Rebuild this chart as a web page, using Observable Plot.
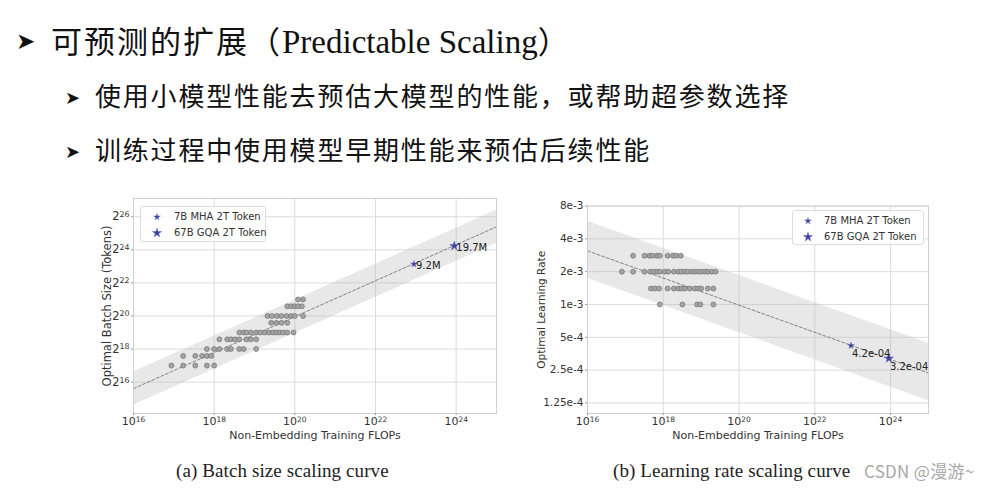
<!DOCTYPE html>
<html><head><meta charset="utf-8">
<script src="https://cdn.jsdelivr.net/npm/d3@7"></script>
<script src="https://cdn.jsdelivr.net/npm/@observablehq/plot@0.6"></script>
<style>
html,body{margin:0;padding:0;background:#fff;width:986px;height:494px;overflow:hidden;position:relative}
.a{position:absolute;white-space:nowrap}
.cjk{font-family:"Noto Sans CJK SC",sans-serif;color:#111;line-height:1}
.arr{font-family:"DejaVu Sans";color:#111;line-height:1}
.cap{font-family:"Liberation Serif",serif;font-size:19px;letter-spacing:0.1px;line-height:1;color:#222}
.lg{position:absolute;background:rgba(255,255,255,0.85);border:1px solid #dcdcdc;border-radius:3px;box-sizing:border-box;font-family:"DejaVu Sans";font-size:10px;color:#333}
.lg .row{position:absolute;height:12px;line-height:12px;white-space:nowrap}
.lg svg{position:absolute;overflow:visible}
</style></head><body>

<span class="a arr" style="left:16px;top:30px;font-size:23px">➤</span>
<div class="a cjk" id="l1" style="left:51px;top:24px;font-size:31px;letter-spacing:2px"></div>
<span class="a arr" style="left:65px;top:89px;font-size:18px">➤</span>
<div class="a cjk" id="l2" style="left:95px;top:82px;font-size:26px;letter-spacing:1.8px"></div>
<span class="a arr" style="left:65px;top:143px;font-size:18px">➤</span>
<div class="a cjk" id="l3" style="left:95px;top:136px;font-size:26px;letter-spacing:1.8px"></div>

<div class="a" id="chartA" style="left:95px;top:190px"></div>
<div class="a" id="chartB" style="left:530px;top:190px"></div>

<div class="a cap" id="capA" style="left:176px;top:461px"></div>
<div class="a cap" id="capB" style="left:613px;top:461px"></div>
<div class="a" id="wm" style="left:864px;top:462px;font-family:'Noto Sans CJK SC',sans-serif;font-size:17px;letter-spacing:0.3px;line-height:1;color:#a8a8a8"></div>

<script>
// ---------- texts ----------
const titleCJK = "可预测的扩展（";
const titleLatin = "Predictable Scaling";
const titleEnd = "）";
const bullet2 = "使用小模型性能去预估大模型的性能，或帮助超参数选择";
const bullet3 = "训练过程中使用模型早期性能来预估后续性能";
const captionA = "(a) Batch size scaling curve";
const captionB = "(b) Learning rate scaling curve";
const watermark = "CSDN @漫游~";

// ---------- shared axis ----------
const flopTicks = [1e16, 1e18, 1e20, 1e22, 1e24];
const flopTickLabels = ["10^16", "10^18", "10^20", "10^22", "10^24"];
const xTitle = "Non-Embedding Training FLOPs";

// ---------- batch size chart ----------
const bsTicks = [65536, 262144, 1048576, 4194304, 16777216, 67108864];
const bsTickLabels = ["2^16", "2^18", "2^20", "2^22", "2^24", "2^26"];
const bsTitle = "Optimal Batch Size (Tokens)";
const bsLevels = [131072, 196608, 262144, 393216, 524288, 786432, 1048576, 1572864, 2097152];
const bsLevelFlops = [
  [8.7e16, 1.7e17, 3.4e17, 6.6e17, 1.0e18],
  [1.7e17, 3.4e17, 5.0e17, 6.6e17, 8.5e17],
  [6.6e17, 1.0e18, 1.35e18, 2.1e18, 2.6e18, 4.2e18, 5.4e18, 1.1e19],
  [1.35e18, 2.1e18, 2.6e18, 3.3e18, 4.2e18, 6.3e18, 8.1e18, 1.1e19],
  [4.2e18, 5.4e18, 6.3e18, 8.1e18, 1.1e19, 1.4e19, 1.8e19, 2.3e19, 2.9e19, 3.5e19, 4.2e19, 5.1e19, 6.5e19, 9.3e19],
  [2.6e19, 3.5e19, 4.7e19, 6.5e19],
  [2.1e19, 2.7e19, 3.6e19, 4.6e19, 6.2e19, 8.1e19, 1.0e20, 1.6e20],
  [6.5e19, 8.1e19, 1.0e20, 1.2e20, 1.5e20],
  [1.2e20, 1.6e20]
];
const fitFlops = [1e16, 1e25];
const bsFit = [5.0e4, 4.4e7];
const bsBandLow = [2.5e4, 2.2e7];
const bsBandHigh = [1.0e5, 8.8e7];

// ---------- learning rate chart ----------
const lrTicks = [1.25e-4, 2.5e-4, 5e-4, 1e-3, 2e-3, 4e-3, 8e-3];
const lrTickLabels = ["1.25e-4", "2.5e-4", "5e-4", "1e-3", "2e-3", "4e-3", "8e-3"];
const lrTitle = "Optimal Learning Rate";
const lrLevels = [2.8e-3, 2e-3, 1.4e-3, 1e-3];
const lrLevelFlops = [
  [1.6e17, 3.2e17, 4.3e17, 5.2e17, 6.8e17, 8.1e17, 1.3e18, 1.8e18, 2.2e18, 2.9e18],
  [8.1e16, 1.6e17, 3.2e17, 4.5e17, 5.5e17, 6.8e17, 8.1e17, 1.1e18, 1.35e18, 1.9e18, 2.5e18, 3.0e18, 3.7e18, 4.4e18, 5.6e18, 6.8e18, 8.3e18, 1.0e19, 1.26e19, 1.5e19, 1.9e19, 2.4e19],
  [4.7e17, 6.0e17, 7.8e17, 1.3e18, 1.9e18, 2.5e18, 3.0e18, 3.7e18, 5.0e18, 6.8e18, 8.3e18, 1.0e19, 1.5e19, 2.1e19],
  [8.1e17, 3.2e18, 7.8e18, 9.5e18, 2.1e19]
];
const lrFit = [3.1e-3, 2.35e-4];
const lrBandLow = [1.74e-3, 1.31e-4];
const lrBandHigh = [5.8e-3, 4.4e-4];

// ---------- large models ----------
const models = ["7B MHA 2T Token", "67B GQA 2T Token"];
const modelFlops = [9.0e22, 9.0e23];
const modelBatch = [9.2e6, 1.97e7];
const modelBatchLabels = ["9.2M", "19.7M"];
const modelLR = [4.2e-4, 3.2e-4];
const modelLRLabels = ["4.2e-04", "3.2e-04"];

// ---------- text ----------
document.getElementById("l1").innerHTML =
  `<span>${titleCJK}</span><span style="font-family:'Liberation Serif',serif;font-size:33px;letter-spacing:0">${titleLatin}</span><span>${titleEnd}</span>`;
document.getElementById("l2").textContent = bullet2;
document.getElementById("l3").textContent = bullet3;
document.getElementById("capA").textContent = captionA;
document.getElementById("capB").textContent = captionB;
document.getElementById("wm").textContent = watermark;

// ---------- tables ----------
const bsPoints = bsLevels.flatMap((v, i) => bsLevelFlops[i].map(f => ({flops: f, value: v})));
const lrPoints = lrLevels.flatMap((v, i) => lrLevelFlops[i].map(f => ({flops: f, value: v})));
const bsFitT = fitFlops.map((f, i) => ({flops: f, fit: bsFit[i], lo: bsBandLow[i], hi: bsBandHigh[i]}));
const lrFitT = fitFlops.map((f, i) => ({flops: f, fit: lrFit[i], lo: lrBandLow[i], hi: lrBandHigh[i]}));
const bsStars = models.map((m, i) => ({model: m, flops: modelFlops[i], value: modelBatch[i], label: modelBatchLabels[i]}));
const lrStars = models.map((m, i) => ({model: m, flops: modelFlops[i], value: modelLR[i], label: modelLRLabels[i]}));

const fmtFrom = (ticks, labels) => { const m = new Map(ticks.map((t, i) => [t, labels[i]])); return d => m.get(d); };

const STAR = "#3c4199", STAR_EDGE = "#6d72c4";
const starR = [2.1, 2.9];

// turn "10^16" style tick labels into base + superscript tspans
function supify(svg) {
  d3.select(svg).selectAll("text").each(function () {
    const m = /^(\d+)\^(\d+)$/.exec(this.textContent);
    if (!m) return;
    this.textContent = "";
    const s = d3.select(this);
    s.append("tspan").text(m[1]);
    s.append("tspan").attr("dy", "-0.42em").attr("font-size", "0.68em").text(m[2]);
  });
  return svg;
}

function chart(o) {
  return supify(Plot.plot({
    width: o.width, height: o.height,
    marginLeft: o.ml, marginRight: o.mr, marginTop: o.mt, marginBottom: o.mb,
    style: {fontFamily: "DejaVu Sans", fontSize: "10px", color: "#333", background: "none", overflow: "visible"},
    x: {type: "log", domain: [1e16, 1e25]},
    y: {type: "log", base: 2, domain: o.ydomain},
    marks: [
      Plot.gridX(flopTicks, {stroke: "#dcdcdc", strokeOpacity: 1}),
      Plot.gridY(o.yticks, {stroke: "#dcdcdc", strokeOpacity: 1}),
      Plot.areaY(o.fitT, {x: "flops", y1: "lo", y2: "hi", fill: "#b8b8b8", fillOpacity: 0.33}),
      Plot.line(o.fitT, {x: "flops", y: "fit", stroke: "#6a6a6a", strokeWidth: 0.8, strokeDasharray: "3,2"}),
      Plot.dot(o.points, {x: "flops", y: "value", r: 2.5, fill: "#a3a3a3", stroke: "#6a6a6a", strokeWidth: 0.6}),
      Plot.dot(o.stars.filter(d => d.model === models[0]), {x: "flops", y: "value", symbol: "star", r: starR[0], fill: STAR, stroke: STAR_EDGE, strokeWidth: 0.5}),
      Plot.dot(o.stars.filter(d => d.model === models[1]), {x: "flops", y: "value", symbol: "star", r: starR[1], fill: STAR, stroke: STAR_EDGE, strokeWidth: 0.5}),
      Plot.text(o.stars, {x: "flops", y: "value", text: "label", textAnchor: "start", dx: o.ldx, dy: o.ldy, fontSize: 10, fill: "#222"}),
      Plot.frame({stroke: "#cfcfcf"}),
      Plot.axisX(flopTicks, {tickFormat: fmtFrom(flopTicks, flopTickLabels), tickSize: 2, tickPadding: 2, fontSize: 11, stroke: "#999",
        label: xTitle, labelAnchor: "center", labelArrow: "none", labelOffset: 25}),
      Plot.axisY(o.yticks, {tickFormat: fmtFrom(o.yticks, o.ylabels), tickSize: 2, tickPadding: 2, fontSize: o.yfs, stroke: "#999",
        label: o.ytitle, labelAnchor: "center", labelArrow: "none", labelOffset: o.ylo})
    ]
  }));
}

document.getElementById("chartA").append(chart({
  width: 405, height: 255, ml: 38, mr: 4, mt: 8, mb: 32,
  ydomain: [17600, 1.44e8], yticks: bsTicks, ylabels: bsTickLabels, yfs: 11.5, ytitle: bsTitle, ylo: 31,
  fitT: bsFitT, points: bsPoints, stars: bsStars, ldx: 2, ldy: 2
}));
document.getElementById("chartB").append(chart({
  width: 400, height: 255, ml: 57, mr: 2, mt: 15.5, mb: 32,
  ydomain: [1e-4, 8e-3], yticks: lrTicks, ylabels: lrTickLabels, yfs: 10.5, ytitle: lrTitle, ylo: 50,
  fitT: lrFitT, points: lrPoints, stars: lrStars, ldx: 1, ldy: 8
}));

// ---------- legends (HTML overlays) ----------
function legend(left, top, w, h, sx, tx, rows) {
  const box = document.createElement("div");
  box.className = "lg";
  Object.assign(box.style, {left: left + "px", top: top + "px", width: w + "px", height: h + "px"});
  models.forEach((m, i) => {
    const r = starR[i];
    const path = d3.symbol(d3.symbolStar, Math.PI * r * r)();
    const svg = document.createElementNS("http://www.w3.org/2000/svg", "svg");
    svg.setAttribute("width", 1); svg.setAttribute("height", 1);
    svg.style.left = sx + "px"; svg.style.top = rows[i] + "px";
    svg.innerHTML = `<path d="${path}" fill="${STAR}" stroke="${STAR_EDGE}" stroke-width="0.5"/>`;
    box.append(svg);
    const row = document.createElement("div");
    row.className = "row";
    row.style.left = tx + "px"; row.style.top = (rows[i] - 6) + "px";
    row.textContent = m;
    box.append(row);
  });
  document.body.append(box);
}
legend(140, 206, 126, 36, 16, 33, [9.5, 25.5]);
legend(792, 210, 132, 35, 14.5, 31, [9.5, 25.5]);
</script>
</body></html>
